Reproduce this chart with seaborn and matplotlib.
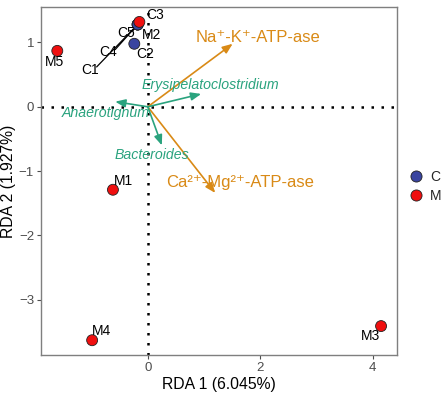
import matplotlib
matplotlib.use("Agg")
import matplotlib.pyplot as plt
from matplotlib.lines import Line2D
import seaborn as sns
import pandas as pd

sns.set_theme(style="white")
plt.rcParams['font.family'] = ['Liberation Sans', 'DejaVu Sans']

# sample scores
samples = ["C1", "C2", "C3", "C4", "C5", "M1", "M2", "M3", "M4", "M5"]
groups = ["C", "C", "C", "C", "C", "M", "M", "M", "M", "M"]
rda1 = [-0.18, -0.24, -0.18, -0.18, -0.18, -0.62, -0.15, 4.15, -0.99, -1.61]
rda2 = [1.28, 0.98, 1.28, 1.28, 1.28, -1.29, 1.32, -3.41, -3.63, 0.87]
label_x = [-1.03, -0.04, 0.13, -0.70, -0.39, -0.44, 0.07, 3.97, -0.82, -1.66]
label_y = [0.58, 0.82, 1.42, 0.85, 1.14, -1.16, 1.12, -3.56, -3.49, 0.70]

# environmental vectors
env_names = ["Na\u207a-K\u207a-ATP-ase", "Ca\u00b2\u207a-Mg\u00b2\u207a-ATP-ase"]
env_x = [1.51, 1.20]
env_y = [0.98, -1.34]
env_lx = [1.96, 1.64]
env_ly = [1.08, -1.18]

# species vectors
sp_names = ["Erysipelatoclostridium", "Anaerotignum", "Bacteroides"]
sp_x = [0.95, -0.58, 0.25]
sp_y = [0.20, 0.08, -0.60]
sp_lx = [1.11, -0.74, 0.07]
sp_ly = [0.34, -0.09, -0.75]

orange = "#D98A16"
green = "#2AA37E"
palette = {"C": "#3A45A0", "M": "#F00F0F"}

df = pd.DataFrame({"RDA1": rda1, "RDA2": rda2, "group": groups, "sample": samples})

fig = plt.figure(figsize=(4.47, 3.96), dpi=100)
ax = fig.add_axes([0.0917, 0.1035, 0.796, 0.8785])

ax.axhline(0, color="black", linestyle=(0, (1, 3)), linewidth=1.8, zorder=1)
ax.axvline(0, color="black", linestyle=(0, (1, 3)), linewidth=1.8, zorder=1)

for i in range(len(env_names)):
    ax.annotate("", xy=(env_x[i], env_y[i]), xytext=(0, 0),
                arrowprops=dict(arrowstyle="-|>,head_length=0.5,head_width=0.2",
                                color=orange, lw=1.2, shrinkA=0, shrinkB=0), zorder=2)
    ax.text(env_lx[i], env_ly[i], env_names[i], color=orange, fontsize=12,
            ha="center", va="center", zorder=3)

for i in range(len(sp_names)):
    ax.annotate("", xy=(sp_x[i], sp_y[i]), xytext=(0, 0),
                arrowprops=dict(arrowstyle="-|>,head_length=0.5,head_width=0.2",
                                color=green, lw=1.2, shrinkA=0, shrinkB=0), zorder=2)
    ax.text(sp_lx[i], sp_ly[i], sp_names[i], color=green, fontsize=10.2,
            style="italic", ha="center", va="center", zorder=3)

# repel segments for crowded labels
for s in ["C1", "C4", "C5"]:
    i = samples.index(s)
    ax.plot([label_x[i] + 0.12, rda1[i]], [label_y[i] + 0.04, rda2[i]],
            color="black", lw=0.9, zorder=3)

sns.scatterplot(data=df, x="RDA1", y="RDA2", hue="group", palette=palette,
                s=62, edgecolor="#222222", linewidth=0.6, ax=ax, zorder=4,
                legend=False)

for i, s in enumerate(samples):
    ax.text(label_x[i], label_y[i], s, fontsize=10, color="black",
            ha="center", va="center", zorder=5)

ax.set_xlim(-1.90, 4.43)
ax.set_ylim(-3.86, 1.55)
ax.set_xticks([0, 2, 4])
ax.set_yticks([-3, -2, -1, 0, 1])
ax.set_yticklabels(["\u22123", "\u22122", "\u22121", "0", "1"])
ax.set_xlabel("RDA 1 (6.045%)", fontsize=11.3, color="black", labelpad=2)
ax.set_ylabel("RDA 2 (1.927%)", fontsize=11.3, color="black", labelpad=2)
ax.tick_params(axis="both", colors="#4D4D4D", labelsize=9.5, length=3,
               width=0.8, direction="out", bottom=True, left=True, pad=2)
for sp in ax.spines.values():
    sp.set_color("#7F7F7F")
    sp.set_linewidth(1.0)

handles = [Line2D([0], [0], marker="o", linestyle="", markersize=8,
                  markerfacecolor=palette[g], markeredgecolor="#222222",
                  markeredgewidth=0.6) for g in ["C", "M"]]
fig.legend(handles, ["C", "M"], loc="center left",
           bbox_to_anchor=(0.915, 0.53), frameon=False, fontsize=10,
           handletextpad=0.5, labelspacing=0.35, handlelength=1.0,
           borderpad=0, borderaxespad=0)

fig.savefig("out.png", dpi=100)
